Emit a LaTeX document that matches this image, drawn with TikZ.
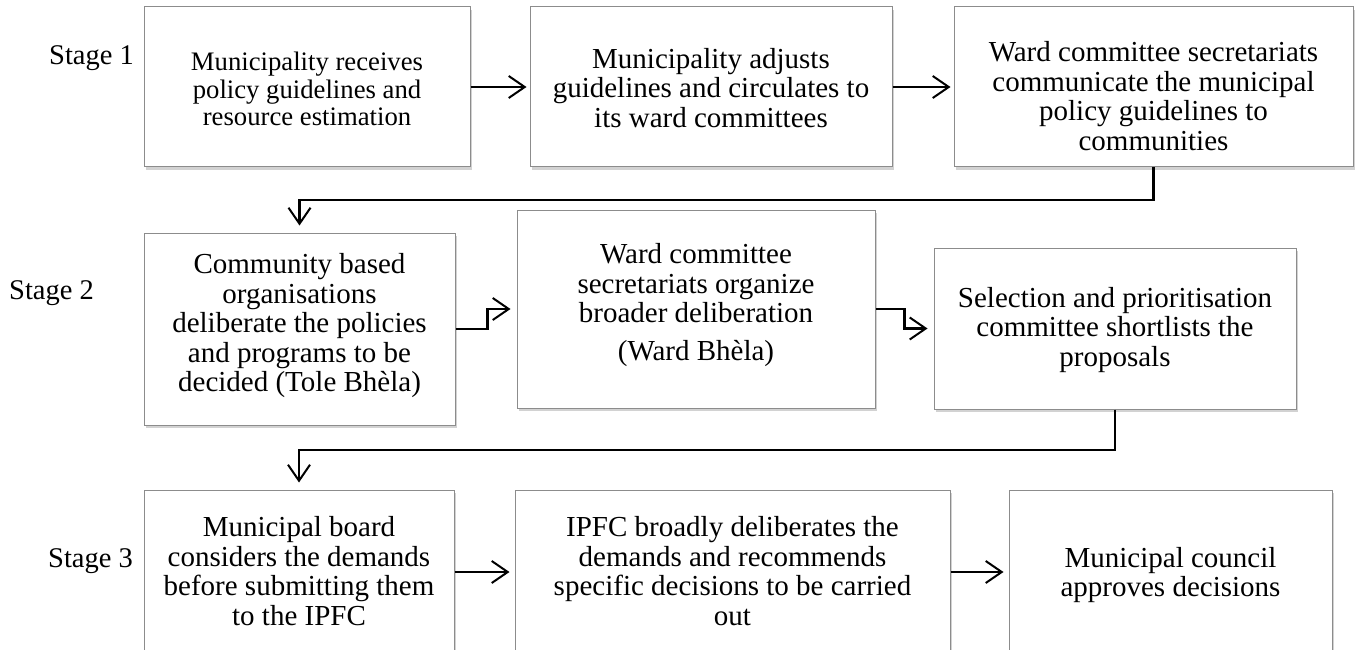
\documentclass[tikz,border=0pt]{standalone}
\usepackage{fontspec}
\setmainfont{Liberation Serif}
\usetikzlibrary{arrows.meta,shadows}
\begin{document}
\begin{tikzpicture}[x=1pt,y=-1pt,
  box/.style={draw=black!45, line width=1pt, fill=white, inner sep=0pt,
    drop shadow={shadow xshift=2pt,shadow yshift=-3pt,opacity=0.35}},
  txt/.style={align=center, inner sep=0pt, font=\fontsize{29}{29.5}\selectfont},
  smalltxt/.style={align=center, inner sep=0pt, font=\fontsize{26.7}{27.5}\selectfont},
  stage/.style={inner sep=0pt, anchor=base west, font=\fontsize{28.5}{30}\selectfont},
  conn/.style={line width=2.2pt, -{Straight Barb[length=16pt,width=22pt,line width=2pt]}},
]
\useasboundingbox (0,0) rectangle (1355,650);
\clip (0,0) rectangle (1355,650);
\fill[white] (0,0) rectangle (1355,650);

% row 1
\node[box, minimum width=326pt, minimum height=160pt] (b1) at (307,87) {};
\node[box, minimum width=362pt, minimum height=160pt] (b2) at (711,87) {};
\node[box, minimum width=399pt, minimum height=160pt] (b3) at (1153.5,87) {};
% row 2
\node[box, minimum width=311pt, minimum height=192pt] (b4) at (299.5,329) {};
\node[box, minimum width=358pt, minimum height=198pt] (b5) at (696,309) {};
\node[box, minimum width=362pt, minimum height=161pt] (b6) at (1115,328.5) {};
% row 3
\node[box, minimum width=310pt, minimum height=170pt] (b7) at (299,575) {};
\node[box, minimum width=435pt, minimum height=170pt] (b8) at (732.5,575) {};
\node[box, minimum width=323pt, minimum height=170pt] (b9) at (1170.5,575) {};

% texts
\node[smalltxt] (t1) at (307,89) {Municipality receives\\policy guidelines and\\resource estimation};
\node[txt] (t2) at (711,88) {Municipality adjusts\\guidelines and circulates to\\its ward committees};
\node[txt] (t3) at (1153.5,96) {Ward committee secretariats\\communicate the municipal\\policy guidelines to\\communities};
\node[txt] (t4) at (299.5,326) {Community based\\organisations\\deliberate the policies\\and programs to be\\decided (Tole Bh\`ela)};
\node[txt] (t5) at (696,305) {Ward committee\\secretariats organize\\broader deliberation\\[8pt](Ward Bh\`ela)};
\node[txt] (t6) at (1115,330) {Selection and prioritisation\\committee shortlists the\\proposals};
\node[txt] (t7) at (299,571) {Municipal board\\considers the demands\\before submitting them\\to the IPFC};
\node[txt] (t8) at (732.5,571) {IPFC broadly deliberates the\\demands and recommends\\specific decisions to be carried\\out};
\node[txt] (t9) at (1170.5,575) {Municipal council\\approves decisions};

% stage labels
\node[stage] (s1) at (49,65) {Stage 1};
\node[stage] (s2) at (9,299) {Stage 2};
\node[stage] (s3) at (48,567) {Stage 3};

% connectors
\coordinate (r1) at (0,200);
\coordinate (r2) at (0,450);
\coordinate (r3) at (0,572);
\draw[conn, shorten >=3pt] (b1.east) -- (b2.west);
\draw[conn, shorten >=3pt] (b2.east) -- (b3.west);
\draw[conn, shorten >=7pt] (b3.south) -- (b3.south |- r1) -| (b4.north);
\draw[conn, shorten >=6pt] (b4.east) -- ++(32,0) |- (b5.west);
\draw[conn, shorten >=6pt] (b5.east) -- ++(29,0) |- (b6.west);
\draw[conn, shorten >=7pt] (b6.south) -- (b6.south |- r2) -| (b7.north);
\draw[conn, shorten >=5pt] (b7.east |- r3) -- (b8.west |- r3);
\draw[conn, shorten >=5pt] (b8.east |- r3) -- (b9.west |- r3);
\end{tikzpicture}
\end{document}
